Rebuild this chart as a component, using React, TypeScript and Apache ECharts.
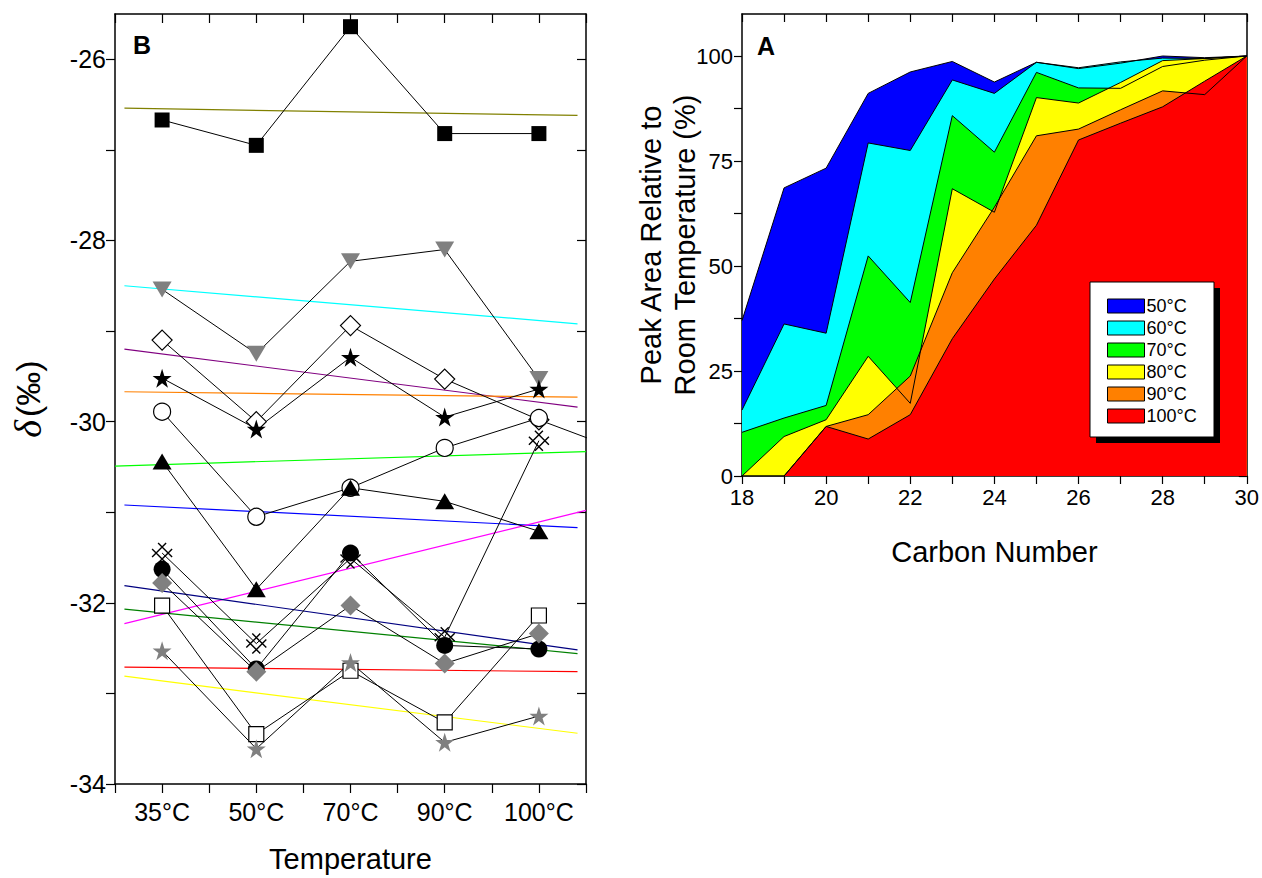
import React, { useEffect, useRef } from 'react';
import * as echarts from 'echarts';

const FONT = 'Liberation Sans, Arial, sans-serif';

// ---------- Panel B data ----------
const tempLabels = ['35°C', '50°C', '70°C', '90°C', '100°C'];
const tempPos = [0, 1, 2, 3, 4];
const bTickX = [-0.5, 0, 0.5, 1, 1.5, 2, 2.5, 3, 3.5, 4, 4.5];
const bTickY = [-34, -33, -32, -31, -30, -29, -28, -27, -26];
const bLabelY = [-34, -32, -30, -28, -26];

const blackSquare = [-26.67, -26.95, -25.64, -26.82, -26.82];
const grayTriangleDown = [-28.54, -29.25, -28.23, -28.1, -29.53];
const openDiamond = [-29.1, -30.0, -28.94, -29.53, -29.98, -30.37];
const blackStar = [-29.52, -30.08, -29.29, -29.95, -29.64];
const openCircle = [-29.89, -31.05, -30.73, -30.29, -29.96];
const blackTriangle = [-30.44, -31.85, -30.73, -30.88, -31.21];
const crossedDiamond = [-31.45, -32.45, -31.51, -32.38, -30.21];
const blackCircle = [-31.63, -32.73, -31.45, -32.47, -32.51];
const grayDiamond = [-31.78, -32.76, -32.03, -32.67, -32.34];
const openSquare = [-32.03, -33.45, -32.75, -33.32, -32.14];
const grayStar = [-32.53, -33.61, -32.66, -33.54, -33.25];

// fit lines: x ends and y ends
const fitX = [-0.4, 4.41];
const fitXFull = [-0.5, 4.5];
const fitXMagenta = [-0.4, 4.5];
const fitOlive = [-26.54, -26.62];
const fitCyan = [-28.5, -28.92];
const fitPurple = [-29.2, -29.84];
const fitOrange = [-29.67, -29.73];
const fitLime = [-30.49, -30.33];
const fitBlue = [-30.92, -31.17];
const fitMagenta = [-32.23, -30.98];
const fitNavy = [-31.81, -32.52];
const fitDarkGreen = [-32.07, -32.56];
const fitRed = [-32.71, -32.76];
const fitYellow = [-32.81, -33.44];

// ---------- Panel A data ----------
const carbon = [18, 19, 20, 21, 22, 23, 24, 25, 26, 27, 28, 29, 30];
const aTickX = [18, 19, 20, 21, 22, 23, 24, 25, 26, 27, 28, 29, 30];
const aLabelX = [18, 20, 22, 24, 26, 28, 30];
const aTickY = [0, 12.5, 25, 37.5, 50, 62.5, 75, 87.5, 100];
const aLabelY = [0, 25, 50, 75, 100];
const aNames = ['50°C', '60°C', '70°C', '80°C', '90°C', '100°C'];
const aColors = ['#0000ff', '#00ffff', '#00ff00', '#ffff00', '#ff8000', '#ff0000'];
const t50 = [37.0, 68.6, 73.3, 91.1, 96.2, 98.7, 93.8, 98.5, 97.0, 98.3, 100, 99.6, 100];
const t60 = [15.7, 36.2, 34.0, 79.3, 77.5, 94.3, 91.1, 98.5, 97.2, 98.6, 99.5, 99.4, 100];
const t70 = [10.4, 13.8, 16.8, 52.4, 41.3, 85.8, 77.1, 96.1, 92.4, 92.3, 97.5, 99.0, 100];
const t80 = [0, 9.4, 13.4, 28.5, 17.3, 68.4, 62.8, 90.1, 88.8, 93.7, 98.9, 99.4, 100];
const t90 = [0, 0, 11.8, 14.6, 23.8, 48.4, 64.0, 81.0, 82.6, 87.2, 91.7, 90.8, 100];
const t100 = [0, 0, 11.8, 8.8, 14.6, 32.7, 46.9, 59.7, 80.0, 84.0, 87.9, 94.0, 100];

const STAR =
  'path://M50,0L61.23,34.55L97.55,34.55L68.17,55.9L79.39,90.45L50,69.1L20.61,90.45L31.83,55.9L2.45,34.55L38.77,34.55Z';
const CROSS_DIAMOND = 'path://M0,3L7,10M3,0L10,7M0,7L7,0M3,10L10,3';

const axisLineStyle = { onZero: false, lineStyle: { color: '#000', width: 1.5 } };

export default function App() {
  const ref = useRef<HTMLDivElement>(null);

  useEffect(() => {
    if (!ref.current) return;
    const chart = echarts.init(ref.current, undefined, { renderer: 'svg' });

    const pts = (vals: number[]) => vals.map((v, i) => [i, v]);

    const markerSeries = (
      name: string,
      vals: number[],
      symbol: string,
      size: number | number[],
      fill: string,
      border: string,
      bw: number,
      rotate = 0
    ) => ({
      type: 'line',
      name,
      xAxisIndex: 0,
      yAxisIndex: 0,
      data: pts(vals),
      symbol,
      symbolSize: size,
      symbolRotate: rotate,
      showAllSymbol: true,
      clip: true,
      lineStyle: { color: '#000', width: 1 },
      itemStyle: { color: fill, borderColor: border, borderWidth: bw },
      z: 5,
      silent: true,
    });

    const fitSeries = (name: string, xs: number[], ys: number[], color: string) => ({
      type: 'line',
      name,
      xAxisIndex: 0,
      yAxisIndex: 0,
      data: xs.map((x, i) => [x, ys[i]]),
      symbol: 'none',
      lineStyle: { color, width: 1.2 },
      z: 3,
      silent: true,
    });

    const areaSeries = (i: number, vals: number[]) => ({
      type: 'line',
      name: aNames[i],
      xAxisIndex: 2,
      yAxisIndex: 2,
      data: carbon.map((c, k) => [c, vals[k]]),
      symbol: 'none',
      lineStyle: { color: '#000', width: 1 },
      itemStyle: { color: aColors[i] },
      areaStyle: { color: aColors[i], opacity: 1 },
      z: 2,
      silent: true,
    });

    const option: any = {
      animation: false,
      backgroundColor: '#fff',
      textStyle: { fontFamily: FONT },
      grid: [
        { left: 115, top: 14, width: 471, height: 773 },
        { left: 742, top: 14, width: 508, height: 462 },
      ],
      xAxis: [
        {
          gridIndex: 0,
          type: 'value',
          position: 'bottom',
          min: -0.5,
          max: 4.5,
          axisLine: axisLineStyle,
          axisTick: { customValues: bTickX, inside: false, length: 9, lineStyle: { color: '#000', width: 1.2 } },
          axisLabel: {
            customValues: tempPos,
            formatter: (v: number) => tempLabels[Math.round(v)] ?? '',
            fontSize: 25,
            color: '#000',
            margin: 15,
            fontFamily: FONT,
          },
          splitLine: { show: false },
          name: 'Temperature',
          nameLocation: 'middle',
          nameGap: 60,
          nameTextStyle: { fontSize: 29, color: '#000', fontFamily: FONT },
        },
        {
          gridIndex: 0,
          type: 'value',
          position: 'top',
          min: -0.5,
          max: 4.5,
          axisLine: axisLineStyle,
          axisTick: { customValues: bTickX, inside: true, length: 9, lineStyle: { color: '#000', width: 1.2 } },
          axisLabel: { show: false },
          splitLine: { show: false },
        },
        {
          gridIndex: 1,
          type: 'value',
          position: 'bottom',
          min: 18,
          max: 30,
          axisLine: axisLineStyle,
          axisTick: { customValues: aTickX, inside: false, length: 8, lineStyle: { color: '#000', width: 1.2 } },
          axisLabel: {
            customValues: aLabelX,
            fontSize: 22,
            color: '#000',
            margin: 10,
            fontFamily: FONT,
          },
          splitLine: { show: false },
          name: 'Carbon Number',
          nameLocation: 'middle',
          nameGap: 61,
          nameTextStyle: { fontSize: 29, color: '#000', fontFamily: FONT },
        },
        {
          gridIndex: 1,
          type: 'value',
          position: 'top',
          min: 18,
          max: 30,
          axisLine: axisLineStyle,
          axisTick: { customValues: aTickX, inside: true, length: 8, lineStyle: { color: '#000', width: 1.2 } },
          axisLabel: { show: false },
          splitLine: { show: false },
        },
      ],
      yAxis: [
        {
          gridIndex: 0,
          type: 'value',
          position: 'left',
          min: -34,
          max: -25.5,
          axisLine: axisLineStyle,
          axisTick: { customValues: bTickY, inside: false, length: 9, lineStyle: { color: '#000', width: 1.2 } },
          axisLabel: {
            customValues: bLabelY,
            fontSize: 25,
            color: '#000',
            margin: 9,
            fontFamily: FONT,
          },
          splitLine: { show: false },
          name: '{i|δ}{n|(‰)}',
          nameLocation: 'middle',
          nameGap: 68,
          nameTextStyle: {
            fontSize: 32,
            color: '#000',
            fontFamily: FONT,
            rich: {
              i: { fontSize: 38, fontStyle: 'italic', fontFamily: 'Liberation Serif, serif', color: '#000', padding: [0, 3, 0, 0] },
              n: { fontSize: 34, fontFamily: FONT, color: '#000' },
            },
          },
        },
        {
          gridIndex: 0,
          type: 'value',
          position: 'right',
          min: -34,
          max: -25.5,
          axisLine: axisLineStyle,
          axisTick: { customValues: bTickY, inside: true, length: 9, lineStyle: { color: '#000', width: 1.2 } },
          axisLabel: { show: false },
          splitLine: { show: false },
        },
        {
          gridIndex: 1,
          type: 'value',
          position: 'left',
          min: 0,
          max: 110,
          axisLine: axisLineStyle,
          axisTick: { customValues: aTickY, inside: false, length: 8, lineStyle: { color: '#000', width: 1.2 } },
          axisLabel: {
            customValues: aLabelY,
            fontSize: 22,
            color: '#000',
            margin: 9,
            fontFamily: FONT,
          },
          splitLine: { show: false },
          name: 'Peak Area Relative to\nRoom Temperature (%)',
          nameLocation: 'middle',
          nameGap: 40,
          nameMoveOverlap: false,
          nameTextStyle: { fontSize: 29, lineHeight: 34, color: '#000', fontFamily: FONT },
        },
        {
          gridIndex: 1,
          type: 'value',
          position: 'right',
          min: 0,
          max: 110,
          axisLine: axisLineStyle,
          axisTick: { customValues: aTickY, inside: true, length: 8, lineStyle: { color: '#000', width: 1.2 } },
          axisLabel: { show: false },
          splitLine: { show: false },
        },
      ],
      legend: {
        show: true,
        orient: 'vertical',
        left: 1107,
        top: 297,
        padding: 0,
        itemGap: 4,
        itemWidth: 37,
        itemHeight: 14,
        icon: 'rect',
        selectedMode: false,
        z: 10,
        textStyle: { fontSize: 18, color: '#000', fontFamily: FONT, padding: [0, 0, 0, -3] },
        data: aNames.map((n, i) => ({
          name: n,
          itemStyle: { color: aColors[i], borderColor: '#000', borderWidth: 1 },
        })),
      },
      graphic: [
        {
          type: 'rect',
          z: 8,
          shape: { x: 1096, y: 288, width: 124, height: 155 },
          style: { fill: '#000' },
          silent: true,
        },
        {
          type: 'rect',
          z: 9,
          shape: { x: 1090, y: 282, width: 124, height: 155 },
          style: { fill: '#fff', stroke: '#000', lineWidth: 1 },
          silent: true,
        },
        {
          type: 'text',
          z: 10,
          x: 133,
          y: 32,
          style: { text: 'B', fontSize: 25, fontWeight: 'bold', fill: '#000', fontFamily: FONT },
        },
        {
          type: 'text',
          z: 10,
          x: 757,
          y: 33,
          style: { text: 'A', fontSize: 25, fontWeight: 'bold', fill: '#000', fontFamily: FONT },
        },
      ],
      series: [
        // Panel A areas (drawn in order; later cover earlier)
        areaSeries(0, t50),
        areaSeries(1, t60),
        areaSeries(2, t70),
        areaSeries(3, t80),
        areaSeries(4, t90),
        areaSeries(5, t100),
        // Panel B fit lines
        fitSeries('fitOlive', fitX, fitOlive, '#808000'),
        fitSeries('fitCyan', fitX, fitCyan, '#00ffff'),
        fitSeries('fitPurple', fitX, fitPurple, '#800080'),
        fitSeries('fitOrange', fitX, fitOrange, '#ff8000'),
        fitSeries('fitLime', fitXFull, fitLime, '#00ff00'),
        fitSeries('fitBlue', fitX, fitBlue, '#0000ff'),
        fitSeries('fitMagenta', fitXMagenta, fitMagenta, '#ff00ff'),
        fitSeries('fitNavy', fitX, fitNavy, '#000080'),
        fitSeries('fitDarkGreen', fitX, fitDarkGreen, '#008000'),
        fitSeries('fitRed', fitX, fitRed, '#ff0000'),
        fitSeries('fitYellow', fitX, fitYellow, '#ffff00'),
        // Panel B markers
        markerSeries('blackSquare', blackSquare, 'rect', 15, '#000', '#000', 0),
        markerSeries('grayTriangleDown', grayTriangleDown, 'triangle', [19, 16], '#808080', '#808080', 0, 180),
        markerSeries('openDiamond', openDiamond, 'diamond', 20, '#fff', '#000', 1.2),
        markerSeries('blackStar', blackStar, STAR, 19, '#000', '#000', 0),
        markerSeries('openCircle', openCircle, 'circle', 17, '#fff', '#000', 1.2),
        markerSeries('blackTriangle', blackTriangle, 'triangle', [19, 16], '#000', '#000', 0),
        markerSeries('crossedDiamond', crossedDiamond, CROSS_DIAMOND, 20, '#fff', '#000', 1.4),
        markerSeries('blackCircle', blackCircle, 'circle', 17, '#000', '#000', 0),
        markerSeries('grayDiamond', grayDiamond, 'diamond', 20, '#808080', '#808080', 0),
        markerSeries('openSquare', openSquare, 'rect', 15, '#fff', '#000', 1.2),
        markerSeries('grayStar', grayStar, STAR, 19, '#808080', '#808080', 0),
      ],
    };

    chart.setOption(option);
    return () => chart.dispose();
  }, []);

  return (
    <div
      ref={ref}
      style={{ position: 'fixed', left: 0, top: 0, width: 1262, height: 878, background: '#fff' }}
    />
  );
}
